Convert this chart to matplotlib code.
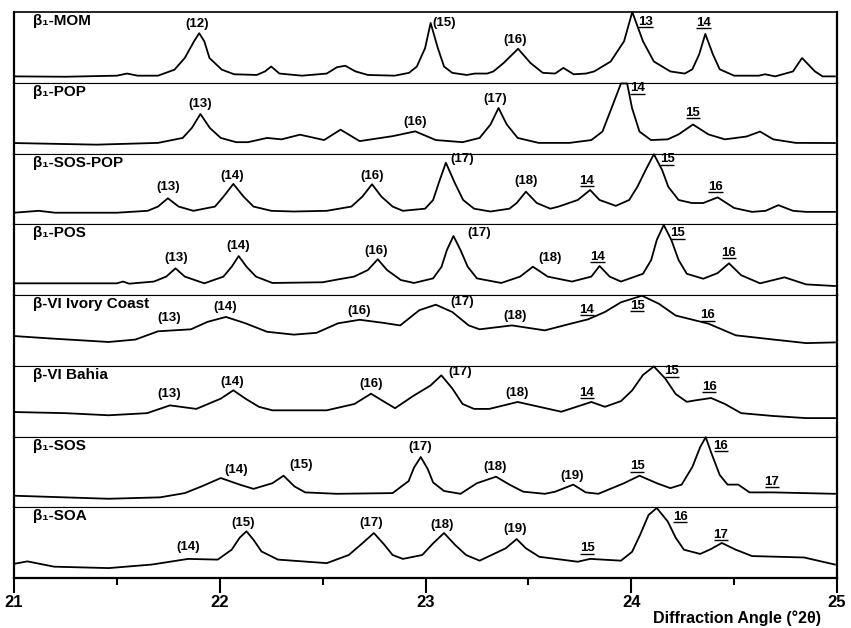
import numpy as np
import matplotlib as mpl
mpl.use("Agg")
mpl.rcParams.update({
    "font.family": ["Liberation Sans", "DejaVu Sans"],
    "font.weight": "bold",
})
from matplotlib import pyplot as plt

# relative intensity (0 = panel bottom, 1 = panel top)
angle_mom = [21.00, 21.25, 21.50, 21.55, 21.60, 21.70, 21.78, 21.83, 21.875, 21.90,
             21.925, 21.95, 22.01, 22.07, 22.18, 22.22, 22.25, 22.29, 22.40, 22.52,
             22.57, 22.61, 22.66, 22.72, 22.85, 22.92, 22.958, 22.998, 23.025, 23.06,
             23.09, 23.13, 23.20, 23.24, 23.30, 23.33, 23.38, 23.45, 23.51, 23.57,
             23.63, 23.67, 23.72, 23.78, 23.82, 23.90, 23.965, 24.005, 24.057, 24.11,
             24.19, 24.26, 24.297, 24.33, 24.36, 24.397, 24.43, 24.50, 24.62, 24.65,
             24.70, 24.786, 24.83, 24.893, 24.93, 24.99]
int_mom = [0.09, 0.085, 0.10, 0.13, 0.10, 0.10, 0.185, 0.35, 0.586, 0.70,
           0.586, 0.35, 0.185, 0.12, 0.11, 0.16, 0.23, 0.13, 0.10, 0.13,
           0.22, 0.24, 0.16, 0.11, 0.10, 0.14, 0.23, 0.49, 0.845, 0.49,
           0.23, 0.14, 0.11, 0.13, 0.13, 0.16, 0.28, 0.48, 0.28, 0.14,
           0.13, 0.21, 0.12, 0.13, 0.16, 0.30, 0.586, 1.0, 0.586, 0.30,
           0.16, 0.13, 0.19, 0.40, 0.69, 0.40, 0.19, 0.10, 0.10, 0.12,
           0.09, 0.16, 0.35, 0.16, 0.09, 0.09]

angle_pop = [21.00, 21.40, 21.70, 21.82, 21.864, 21.906, 21.952, 22.005, 22.08, 22.137,
             22.23, 22.30, 22.39, 22.507, 22.587, 22.68, 22.84, 22.95, 23.05, 23.18,
             23.263, 23.316, 23.355, 23.395, 23.448, 23.55, 23.70, 23.806, 23.86, 23.904,
             23.95, 23.98, 24.004, 24.04, 24.096, 24.177, 24.23, 24.30, 24.375, 24.455,
             24.56, 24.626, 24.69, 24.80, 24.99]
int_pop = [0.148, 0.125, 0.15, 0.22, 0.36, 0.558, 0.36, 0.22, 0.16, 0.16,
           0.22, 0.20, 0.266, 0.19, 0.337, 0.175, 0.245, 0.313, 0.19, 0.16,
           0.22, 0.41, 0.643, 0.41, 0.22, 0.15, 0.15, 0.19, 0.31, 0.64,
           0.99, 0.99, 0.64, 0.31, 0.19, 0.20, 0.27, 0.41, 0.27, 0.20,
           0.24, 0.31, 0.20, 0.15, 0.148]

angle_sospop = [21.00, 21.12, 21.20, 21.50, 21.65, 21.70, 21.748, 21.80, 21.872, 21.977,
                22.018, 22.066, 22.116, 22.164, 22.25, 22.36, 22.52, 22.64, 22.693, 22.74,
                22.786, 22.84, 22.89, 22.998, 23.037, 23.064, 23.099, 23.143, 23.183, 23.236,
                23.316, 23.408, 23.443, 23.488, 23.541, 23.607, 23.647, 23.74, 23.80, 23.846,
                23.925, 23.99, 24.03, 24.07, 24.11, 24.15, 24.18, 24.23, 24.295, 24.35,
                24.42, 24.50, 24.587, 24.653, 24.715, 24.786, 24.85, 24.99]
int_sospop = [0.163, 0.19, 0.163, 0.163, 0.19, 0.25, 0.367, 0.25, 0.19, 0.25,
              0.39, 0.57, 0.39, 0.25, 0.19, 0.18, 0.19, 0.25, 0.39, 0.565,
              0.39, 0.25, 0.19, 0.22, 0.343, 0.58, 0.87, 0.58, 0.343, 0.22,
              0.18, 0.22, 0.30, 0.46, 0.30, 0.22, 0.25, 0.343, 0.484, 0.343,
              0.26, 0.343, 0.53, 0.767, 0.99, 0.767, 0.53, 0.343, 0.30, 0.30,
              0.38, 0.23, 0.175, 0.19, 0.27, 0.19, 0.175, 0.175]

angle_pos = [21.00, 21.50, 21.53, 21.56, 21.68, 21.74, 21.785, 21.83, 21.925, 22.018,
             22.058, 22.092, 22.13, 22.176, 22.256, 22.50, 22.574, 22.653, 22.72, 22.768,
             22.813, 22.88, 22.944, 23.037, 23.078, 23.104, 23.136, 23.17, 23.205, 23.25,
             23.368, 23.46, 23.522, 23.594, 23.712, 23.806, 23.846, 23.895, 23.95, 24.057,
             24.097, 24.124, 24.158, 24.195, 24.23, 24.27, 24.35, 24.42, 24.475, 24.534,
             24.626, 24.745, 24.85, 24.99]
int_pos = [0.165, 0.165, 0.19, 0.16, 0.19, 0.26, 0.377, 0.26, 0.165, 0.26,
           0.40, 0.55, 0.40, 0.26, 0.17, 0.18, 0.22, 0.26, 0.353, 0.505,
           0.353, 0.212, 0.17, 0.235, 0.40, 0.636, 0.834, 0.636, 0.40, 0.235,
           0.17, 0.26, 0.40, 0.26, 0.19, 0.26, 0.41, 0.26, 0.19, 0.30,
           0.495, 0.777, 0.99, 0.777, 0.495, 0.30, 0.23, 0.31, 0.448, 0.28,
           0.165, 0.25, 0.15, 0.127]

angle_ivory = [21.00, 21.18, 21.46, 21.59, 21.70, 21.86, 21.94, 22.03, 22.125, 22.23,
               22.36, 22.47, 22.575, 22.68, 22.786, 22.877, 22.97, 23.05, 23.13, 23.21,
               23.263, 23.42, 23.58, 23.713, 23.79, 23.872, 23.95, 24.052, 24.135, 24.216,
               24.375, 24.508, 24.693, 24.85, 24.99]
int_ivory = [0.42, 0.385, 0.336, 0.37, 0.487, 0.515, 0.62, 0.69, 0.60, 0.48,
             0.44, 0.465, 0.60, 0.65, 0.61, 0.57, 0.785, 0.863, 0.76, 0.57,
             0.515, 0.57, 0.50, 0.60, 0.656, 0.76, 0.897, 0.99, 0.875, 0.71,
             0.595, 0.43, 0.37, 0.32, 0.33]

angle_bahia = [21.00, 21.25, 21.46, 21.647, 21.758, 21.886, 22.005, 22.066, 22.125, 22.19,
               22.256, 22.52, 22.655, 22.735, 22.80, 22.852, 22.944, 23.024, 23.077, 23.13,
               23.18, 23.236, 23.31, 23.448, 23.66, 23.806, 23.872, 23.95, 24.004, 24.057,
               24.11, 24.165, 24.216, 24.27, 24.31, 24.388, 24.455, 24.534, 24.69, 24.85,
               24.99]
int_bahia = [0.346, 0.33, 0.30, 0.33, 0.44, 0.39, 0.535, 0.653, 0.535, 0.42,
             0.37, 0.37, 0.46, 0.605, 0.49, 0.40, 0.58, 0.72, 0.865, 0.68,
             0.46, 0.39, 0.39, 0.488, 0.35, 0.488, 0.42, 0.50, 0.65, 0.87,
             0.99, 0.82, 0.60, 0.49, 0.51, 0.544, 0.46, 0.33, 0.29, 0.26,
             0.26]

angle_sos = [21.00, 21.46, 21.71, 21.83, 21.912, 22.005, 22.097, 22.164, 22.256, 22.31,
             22.363, 22.415, 22.57, 22.84, 22.918, 22.944, 22.977, 23.011, 23.037, 23.09,
             23.17, 23.25, 23.343, 23.408, 23.475, 23.58, 23.63, 23.718, 23.779, 23.84,
             23.965, 24.04, 24.124, 24.19, 24.245, 24.297, 24.335, 24.362, 24.39, 24.43,
             24.468, 24.52, 24.575, 24.69, 24.99]
int_sos = [0.163, 0.12, 0.14, 0.20, 0.295, 0.413, 0.32, 0.26, 0.34, 0.446,
           0.295, 0.21, 0.19, 0.20, 0.37, 0.56, 0.71, 0.54, 0.35, 0.23,
           0.19, 0.34, 0.432, 0.32, 0.22, 0.19, 0.22, 0.32, 0.21, 0.19,
           0.34, 0.446, 0.34, 0.27, 0.32, 0.57, 0.85, 0.99, 0.76, 0.456,
           0.32, 0.32, 0.21, 0.21, 0.19]

angle_soa = [21.00, 21.065, 21.195, 21.46, 21.67, 21.846, 21.99, 22.058, 22.097, 22.13,
             22.164, 22.203, 22.283, 22.52, 22.627, 22.693, 22.749, 22.80, 22.84, 22.89,
             22.984, 23.037, 23.09, 23.143, 23.197, 23.263, 23.39, 23.443, 23.488, 23.553,
             23.74, 23.80, 23.95, 24.004, 24.043, 24.084, 24.124, 24.177, 24.216, 24.256,
             24.335, 24.388, 24.44, 24.508, 24.587, 24.84, 24.99]
int_soa = [0.20, 0.235, 0.16, 0.14, 0.19, 0.27, 0.26, 0.40, 0.57, 0.66,
           0.54, 0.375, 0.26, 0.21, 0.325, 0.49, 0.636, 0.47, 0.325, 0.27,
           0.325, 0.49, 0.636, 0.47, 0.325, 0.245, 0.42, 0.55, 0.42, 0.30,
           0.23, 0.27, 0.245, 0.37, 0.61, 0.89, 0.99, 0.80, 0.57, 0.40,
           0.34, 0.41, 0.495, 0.40, 0.31, 0.29, 0.19]

sample_names = ["β₁-MOM", "β₁-POP", "β₁-SOS-POP", "β₁-POS",
                "β-VI Ivory Coast", "β-VI Bahia", "β₁-SOS", "β₁-SOA"]

# peak labels: (text, angle, height); plain numbers are drawn underlined
peaks_mom = [("(12)", 21.89, 0.83), ("(15)", 23.09, 0.85), ("(16)", 23.435, 0.61),
             ("13", 24.07, 0.86), ("14", 24.353, 0.85)]
peaks_pop = [("(13)", 21.904, 0.695), ("(16)", 22.95, 0.45), ("(17)", 23.34, 0.766),
             ("14", 24.03, 0.92), ("15", 24.30, 0.577)]
peaks_sospop = [("(13)", 21.75, 0.52), ("(14)", 22.06, 0.686), ("(16)", 22.74, 0.686),
                ("(17)", 23.18, 0.92), ("(18)", 23.49, 0.61), ("14", 23.785, 0.615),
                ("15", 24.174, 0.92), ("16", 24.41, 0.53)]
peaks_pos = [("(13)", 21.79, 0.527), ("(14)", 22.09, 0.69), ("(16)", 22.76, 0.62),
             ("(17)", 23.26, 0.87), ("(18)", 23.605, 0.53), ("14", 23.834, 0.54),
             ("15", 24.227, 0.87), ("16", 24.475, 0.60)]
peaks_ivory = [("(13)", 21.755, 0.67), ("(14)", 22.025, 0.835), ("(16)", 22.677, 0.78),
               ("(17)", 23.18, 0.905), ("(18)", 23.435, 0.70), ("14", 23.785, 0.79),
               ("15", 24.028, 0.845), ("16", 24.373, 0.717)]
peaks_bahia = [("(13)", 21.755, 0.60), ("(14)", 22.06, 0.775), ("(16)", 22.735, 0.74),
               ("(17)", 23.168, 0.916), ("(18)", 23.445, 0.61), ("14", 23.785, 0.62),
               ("15", 24.198, 0.925), ("16", 24.378, 0.70)]
peaks_sos = [("(14)", 22.079, 0.526), ("(15)", 22.395, 0.597), ("(17)", 22.973, 0.855),
             ("(18)", 23.338, 0.573), ("(19)", 23.712, 0.44), ("15", 24.028, 0.583),
             ("16", 24.436, 0.866), ("17", 24.684, 0.36)]
peaks_soa = [("(14)", 21.846, 0.44), ("(15)", 22.113, 0.773), ("(17)", 22.735, 0.773),
             ("(18)", 23.08, 0.75), ("(19)", 23.435, 0.69), ("15", 23.785, 0.42),
             ("16", 24.237, 0.866), ("17", 24.436, 0.61)]

angles = [angle_mom, angle_pop, angle_sospop, angle_pos, angle_ivory, angle_bahia, angle_sos, angle_soa]
intensities = [int_mom, int_pop, int_sospop, int_pos, int_ivory, int_bahia, int_sos, int_soa]
peak_labels = [peaks_mom, peaks_pop, peaks_sospop, peaks_pos, peaks_ivory, peaks_bahia, peaks_sos, peaks_soa]


def underline(ax, txt, renderer):
    # draw a rule just under the glyphs of a text object
    bb = txt.get_window_extent(renderer=renderer)
    inv = ax.transData.inverted()
    (x0, y0), (x1, _) = inv.transform([(bb.x0, bb.y0 + 0.5), (bb.x1, bb.y0 + 0.5)])
    ax.plot([x0, x1], [y0, y0], color="black", lw=1.0, clip_on=False, solid_capstyle="butt")


def plot_stack():
    fig = plt.figure(figsize=(8.51, 6.28), dpi=100)
    renderer = fig.canvas.get_renderer()
    W, H = 851.0, 628.0
    left, right = 14 / W, 837 / W
    top, bottom = 1 - 12 / H, 1 - 578 / H
    n = len(sample_names)
    h = (top - bottom) / n

    for i in range(n):
        ax = fig.add_axes([left, top - (i + 1) * h, right - left, h])
        ax.plot(angles[i], intensities[i], color="black", lw=1.3, clip_on=False,
                solid_joinstyle="round")
        ax.set_xlim(21, 25)
        ax.set_ylim(0, 1)
        ax.set_yticks([])
        for side in ["left", "right"]:
            ax.spines[side].set_linewidth(1.6)
        ax.spines["top"].set_linewidth(1.2 if i == 0 else 0.8)
        ax.spines["bottom"].set_linewidth(0.8)

        ax.text(0.023, 0.87, sample_names[i], transform=ax.transAxes, ha="left", va="center",
                fontsize=11, fontweight="bold")
        for label, x, y in peak_labels[i]:
            t = ax.text(x, y, label, ha="center", va="center", fontsize=9.5, fontweight="bold")
            if not label.startswith("("):
                underline(ax, t, renderer)

        if i < n - 1:
            ax.set_xticks([])
        else:
            ax.spines["bottom"].set_linewidth(1.6)
            ax.set_xticks([21, 22, 23, 24, 25])
            ax.set_xticks([21.5, 22.5, 23.5, 24.5], minor=True)
            ax.tick_params(axis="x", which="major", direction="out", length=10.5, width=1.5,
                           labelsize=12, pad=2)
            ax.tick_params(axis="x", which="minor", direction="out", length=5, width=1.5)
            for t in ax.get_xticklabels():
                t.set_fontweight("bold")

    fig.text(737 / W, 1 - 618 / H, "Diffraction Angle (°2θ)", ha="center", va="center",
             fontsize=11.5, fontweight="bold")
    fig.savefig("out.png", dpi=100)
    plt.close(fig)


if __name__ == '__main__':
    plot_stack()
